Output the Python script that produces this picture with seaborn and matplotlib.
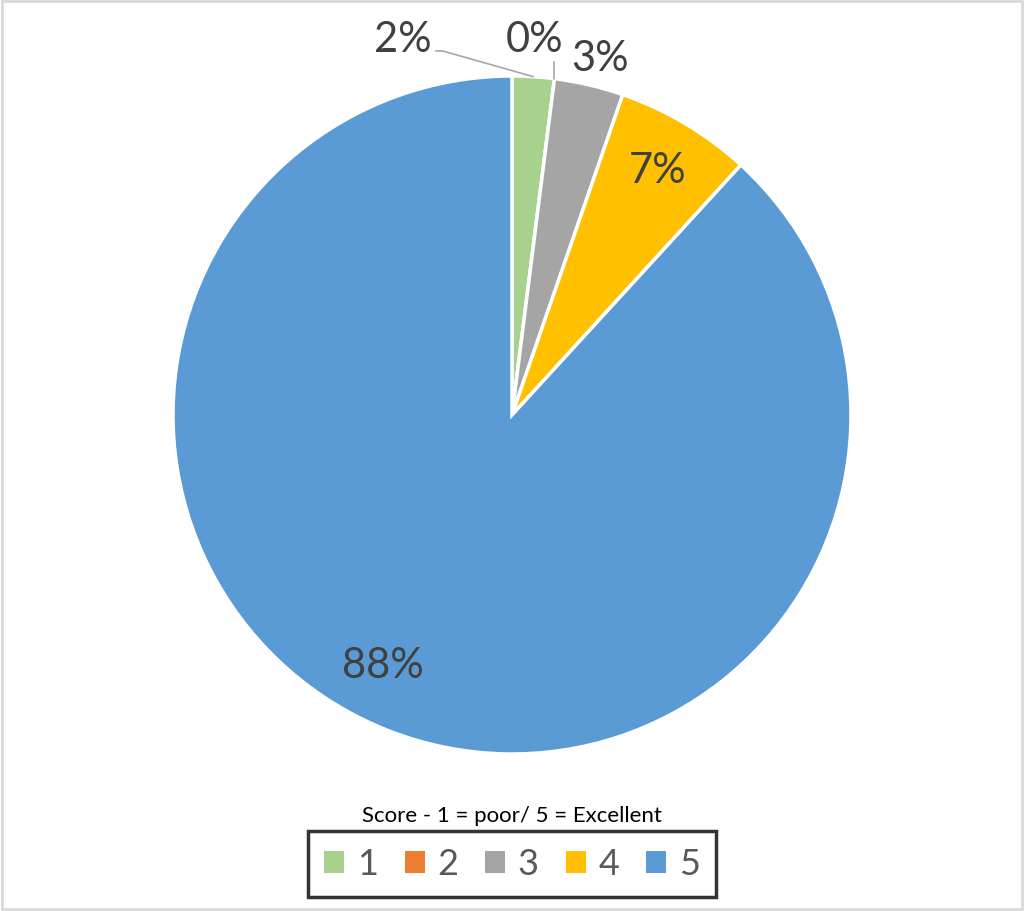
import numpy as np
import seaborn as sns
import matplotlib.pyplot as plt
from matplotlib.patches import Rectangle, Patch

scores = ["1", "2", "3", "4", "5"]
shares = [2.0, 0.0, 3.3, 6.5, 88.2]
pct_labels = ["2%", "0%", "3%", "7%", "88%"]
colors = ["#A9D18E", "#ED7D31", "#A5A5A5", "#FFC000", "#5B9BD5"]
legend_title = "Score - 1 = poor/ 5 = Excellent"

sns.set_theme(style="white")
plt.rcParams['font.family'] = ['Lato', 'DejaVu Sans']

fig = plt.figure(figsize=(10.24, 9.12), dpi=100)
fig.patch.set_facecolor("white")
fig.patches.append(Rectangle((0.002, 0.002), 0.996, 0.996, transform=fig.transFigure,
                             fill=False, edgecolor="#D9D9D9", linewidth=2))

cx, cy, r = 512, 416, 339
ax = fig.add_axes([(cx - r) / 1024, (912 - cy - r) / 912, 2 * r / 1024, 2 * r / 912])

wedges, _ = ax.pie(shares, colors=colors, startangle=90, counterclock=False,
                   radius=1, wedgeprops=dict(edgecolor="white", linewidth=2.5))
ax.set_xlim(-1, 1)
ax.set_ylim(-1, 1)
ax.set_aspect("equal")
ax.axis("off")

# mid angles of the slices (degrees, matplotlib convention)
total = sum(shares)
cum = np.cumsum([0] + shares[:-1])
mids = [90 - 360 * (c + s / 2) / total for c, s in zip(cum, shares)]

txt = dict(color="#404040", fontsize=30, ha="center", va="center")

# large slices: labels inside (Excel nudges the big one a bit off the bisector)
for i, d, shift in [(3, 0.84, 0), (4, 0.83, -6)]:
    a = np.deg2rad(mids[i] + shift)
    ax.text(d * np.cos(a), d * np.sin(a), pct_labels[i], **txt)

# slice 3: just outside
a = np.deg2rad(mids[2])
ax.text(1.1 * np.cos(a) + 0.01, 1.08 * np.sin(a), pct_labels[2], clip_on=False, **txt)

# slices 1 and 2 with leader lines
a = np.deg2rad(mids[0])
ex, ey = np.cos(a), np.sin(a)
ax.plot([-0.225, -0.205, ex], [1.074, 1.074, ey], color="#A6A6A6", lw=1.2, clip_on=False)
ax.text(-0.322, 1.109, pct_labels[0], clip_on=False, **txt)

a = np.deg2rad(mids[1])
ex, ey = np.cos(a), np.sin(a)
ax.plot([ex, ex], [ey, 1.04], color="#A6A6A6", lw=1.2, clip_on=False)
ax.text(0.068, 1.109, pct_labels[1], clip_on=False, **txt)

fig.text(0.5, 1 - 816 / 912, legend_title, ha="center", va="center",
         fontsize=16, color="black")

handles = [Patch(facecolor=c, edgecolor="none") for c in colors]
leg = fig.legend(handles, scores, loc="center", bbox_to_anchor=(0.5, 1 - 865 / 912),
                 ncol=5, fontsize=26, frameon=True, fancybox=False,
                 handlelength=0.55, handleheight=0.55, handletextpad=0.35,
                 columnspacing=0.75, borderpad=0.45, labelcolor="#595959")
leg.get_frame().set_edgecolor("black")
leg.get_frame().set_linewidth(2.5)

fig.savefig("out.png", dpi=100)
